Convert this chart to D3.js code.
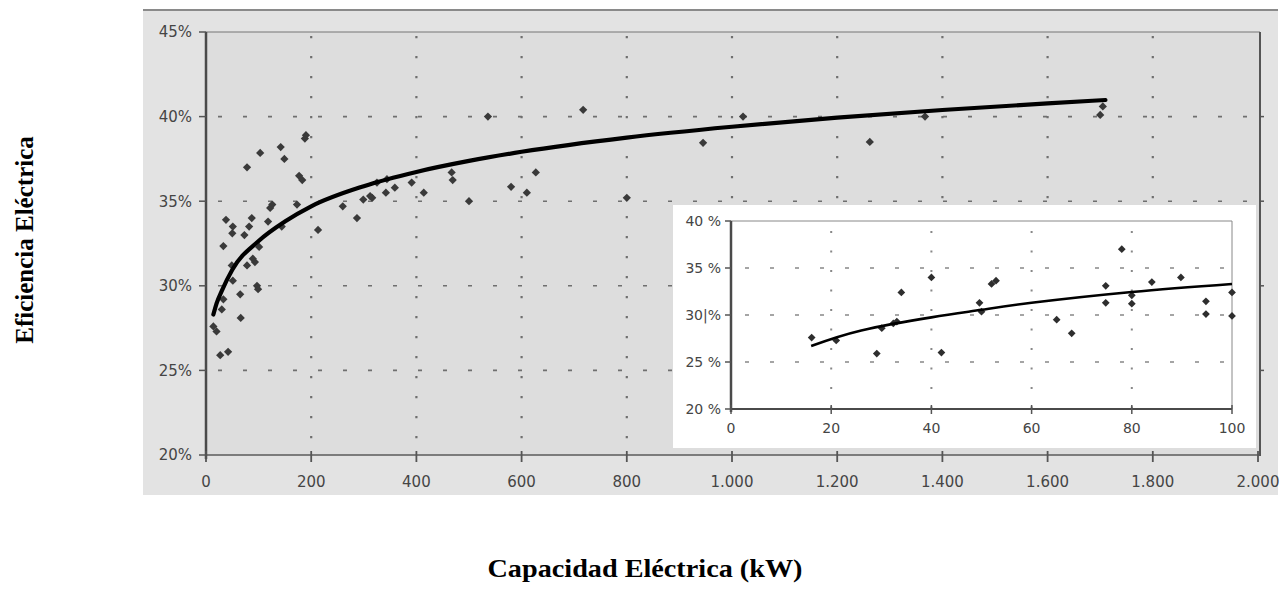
<!DOCTYPE html>
<html lang="es">
<head>
  <meta charset="UTF-8">
  <title>Eficiencia vs Capacidad Eléctrica</title>
  <style>
    body { margin: 0; background: #fff; }
    svg { display: block; }
    .tick-label { font-family: "DejaVu Sans", sans-serif; fill: #454545; }
    .axis-title { font-family: "Liberation Serif", "Times New Roman", serif; font-weight: bold; font-size: 25px; fill: #000; }
  </style>
</head>
<body>
  <script src="https://d3js.org/d3.v7.min.js"></script>
  <script>
    // datos del gráfico principal (kW, %)
    const mainCapacity = [14, 20, 27, 42, 30, 33, 65, 66, 97, 99, 51, 49, 78, 93, 33, 101, 89,
      50, 73, 51, 82, 38, 87, 118, 144, 122, 126, 173, 213,
      78, 103, 142, 149, 177, 183, 188, 190,
      260, 287, 299, 312, 316, 325, 342, 344, 359, 391, 414, 467, 469,
      500, 536, 580, 610, 627, 717, 800, 945, 1021, 1262, 1367, 1700, 1705];
    const mainEfficiency = [27.6, 27.3, 25.9, 26.1, 28.6, 29.2, 29.5, 28.1, 30.0, 29.8, 30.3, 31.2, 31.2, 31.4, 32.35, 32.3, 31.6,
      33.1, 33.0, 33.5, 33.5, 33.9, 34.0, 33.8, 33.5, 34.6, 34.8, 34.8, 33.3,
      37.0, 37.85, 38.2, 37.5, 36.5, 36.25, 38.7, 38.9,
      34.7, 34.0, 35.1, 35.3, 35.2, 36.1, 35.5, 36.3, 35.8, 36.1, 35.5, 36.7, 36.25,
      35.0, 40.0, 35.85, 35.5, 36.7, 40.4, 35.2, 38.45, 40.0, 38.5, 40.0, 40.1, 40.6];

    // línea de tendencia
    const trendMainX = [14, 20, 30, 50, 100, 150, 200, 300, 400, 500, 600, 800, 1000, 1200, 1400, 1600, 1710];
    const trendMainY = [28.3, 28.95, 29.7, 30.95, 32.65, 33.8, 34.7, 35.89, 36.73, 37.38, 37.92, 38.76, 39.4, 39.94, 40.39, 40.78, 40.98];

    // datos del recuadro (0-100 kW)
    const insetCapacity = [16.1, 21, 29.1, 30.1, 32.4, 33.1, 34, 40, 42, 49.6, 50, 52, 52.9, 65, 68,
      74.8, 74.8, 78, 80, 80, 84, 89.8, 94.8, 94.8, 100, 100];
    const insetEfficiency = [27.6, 27.3, 25.9, 28.6, 29.1, 29.3, 32.4, 34.0, 26.0, 31.3, 30.35, 33.3, 33.65, 29.5, 28.05,
      33.1, 31.3, 37.0, 32.1, 31.2, 33.5, 34.0, 31.45, 30.1, 32.4, 29.9];
    const trendInsetX = [16, 26, 40, 50, 60, 80, 100];
    const trendInsetY = [26.7, 28.35, 29.75, 30.55, 31.3, 32.45, 33.3];

    // ticks
    const mainXTicks = [0, 200, 400, 600, 800, 1000, 1200, 1400, 1600, 1800, 2000];
    const mainYTicks = [20, 25, 30, 35, 40, 45];
    const insetXTicks = [0, 20, 40, 60, 80, 100];
    const insetYTicks = [20, 25, 30, 35, 40];
    const insetYLabels = ["20 %", "25 %", "30|%", "35 %", "40 %"];

    const width = 1285, height = 609;
    const svg = d3.select("body").append("svg")
      .attr("width", width)
      .attr("height", height);

    const esLocale = d3.formatLocale({decimal: ",", thousands: ".", grouping: [3], currency: ["", ""]});
    const fmtKw = esLocale.format(",");

    // marco exterior gris
    svg.append("rect").attr("x", 143).attr("y", 10).attr("width", 1135).attr("height", 485)
      .attr("fill", "#e3e3e3");
    svg.append("line").attr("x1", 143).attr("x2", 1278).attr("y1", 10).attr("y2", 10)
      .attr("stroke", "#8a8a8a").attr("stroke-width", 2);

    // ---------- gráfico principal ----------
    const x = d3.scaleLinear().domain([0, 2000]).range([206, 1258]);
    const y = d3.scaleLinear().domain([20, 45]).range([455, 32]);

    svg.append("rect").attr("x", 206).attr("y", 32).attr("width", 1054).attr("height", 423)
      .attr("fill", "#dddddd");

    const grid = svg.append("g");
    grid.selectAll("line.v").data(mainXTicks.filter(d => d > 0 && d < 2000)).enter().append("line")
      .attr("x1", d => x(d)).attr("x2", d => x(d))
      .attr("y1", 36).attr("y2", 455)
      .attr("stroke", "#6f6f6f").attr("stroke-width", 2.2)
      .attr("stroke-dasharray", "2.2 17.8");
    grid.selectAll("line.h").data(mainYTicks.filter(d => d > 20 && d < 45)).enter().append("line")
      .attr("x1", 218).attr("x2", 1260)
      .attr("y1", d => y(d)).attr("y2", d => y(d))
      .attr("stroke", "#6f6f6f").attr("stroke-width", 1.6)
      .attr("stroke-dasharray", "4 21");

    // bordes del área
    svg.append("line").attr("x1", 206).attr("x2", 1260).attr("y1", 32).attr("y2", 32)
      .attr("stroke", "#777").attr("stroke-width", 1.2);
    svg.append("line").attr("x1", 1260).attr("x2", 1260).attr("y1", 32).attr("y2", 456)
      .attr("stroke", "#555").attr("stroke-width", 2);
    svg.selectAll("line.rt").data(mainYTicks.slice(1, -1)).enter().append("line")
      .attr("x1", 1260).attr("x2", 1264).attr("y1", d => y(d)).attr("y2", d => y(d))
      .attr("stroke", "#555").attr("stroke-width", 1.5);

    // ejes
    svg.append("line").attr("x1", 206).attr("x2", 1260).attr("y1", 455).attr("y2", 455)
      .attr("stroke", "#5a5a5a").attr("stroke-width", 1.6);
    svg.append("line").attr("x1", 206).attr("x2", 206).attr("y1", 32).attr("y2", 459)
      .attr("stroke", "#4a4a4a").attr("stroke-width", 2.5);

    svg.selectAll("line.yt").data(mainYTicks).enter().append("line")
      .attr("x1", 199).attr("x2", 206).attr("y1", d => y(d)).attr("y2", d => y(d))
      .attr("stroke", "#555").attr("stroke-width", 1.5);
    svg.selectAll("line.xt").data(mainXTicks).enter().append("line")
      .attr("x1", d => x(d)).attr("x2", d => x(d)).attr("y1", 451).attr("y2", 462)
      .attr("stroke", "#555").attr("stroke-width", 1.8);

    svg.selectAll("text.yl").data(mainYTicks).enter().append("text")
      .attr("class", "tick-label")
      .attr("x", 192).attr("y", d => y(d)).attr("dy", "0.36em")
      .attr("text-anchor", "end").attr("font-size", "15px")
      .text(d => d + "%");
    svg.selectAll("text.xl").data(mainXTicks).enter().append("text")
      .attr("class", "tick-label")
      .attr("x", d => x(d)).attr("y", 482).attr("dy", "0.36em")
      .attr("text-anchor", "middle").attr("font-size", "15px")
      .text(d => fmtKw(d));

    // puntos (rombos = cuadrados girados)
    const diamond = d3.symbol().type(d3.symbolSquare).size(34);
    svg.append("g").selectAll("path").data(mainCapacity).enter().append("path")
      .attr("d", diamond)
      .attr("transform", (d, i) => `translate(${x(d)},${y(mainEfficiency[i])}) rotate(45)`)
      .attr("fill", "#3a3a3a");

    // tendencia
    const trendMain = trendMainX.map((d, i) => [d, trendMainY[i]]);
    svg.append("path").datum(trendMain)
      .attr("d", d3.line().x(d => x(d[0])).y(d => y(d[1])).curve(d3.curveMonotoneX))
      .attr("fill", "none").attr("stroke", "#000").attr("stroke-width", 4.2)
      .attr("stroke-linecap", "round");

    // ---------- recuadro 0-100 kW ----------
    const xi = d3.scaleLinear().domain([0, 100]).range([731, 1232]);
    const yi = d3.scaleLinear().domain([20, 40]).range([409, 221]);

    svg.append("rect").attr("x", 673).attr("y", 205).attr("width", 583).attr("height", 243)
      .attr("fill", "#fff");

    const igrid = svg.append("g");
    igrid.selectAll("line.v").data(insetXTicks.filter(d => d > 0 && d < 100)).enter().append("line")
      .attr("x1", d => xi(d)).attr("x2", d => xi(d))
      .attr("y1", 231).attr("y2", 409)
      .attr("stroke", "#888").attr("stroke-width", 2)
      .attr("stroke-dasharray", "2 17.5");
    igrid.selectAll("line.h").data(insetYTicks.filter(d => d > 20 && d < 40)).enter().append("line")
      .attr("x1", 745).attr("x2", 1232)
      .attr("y1", d => yi(d)).attr("y2", d => yi(d))
      .attr("stroke", "#888").attr("stroke-width", 1.5)
      .attr("stroke-dasharray", "4 21");

    svg.append("line").attr("x1", 731).attr("x2", 1232).attr("y1", 221).attr("y2", 221)
      .attr("stroke", "#888").attr("stroke-width", 1);
    svg.append("line").attr("x1", 1232).attr("x2", 1232).attr("y1", 221).attr("y2", 409)
      .attr("stroke", "#888").attr("stroke-width", 1);
    svg.append("line").attr("x1", 731).attr("x2", 1232).attr("y1", 409).attr("y2", 409)
      .attr("stroke", "#4a4a4a").attr("stroke-width", 2);
    svg.append("line").attr("x1", 731).attr("x2", 731).attr("y1", 221).attr("y2", 412)
      .attr("stroke", "#4a4a4a").attr("stroke-width", 2.5);

    svg.selectAll("line.iyt").data(insetYTicks).enter().append("line")
      .attr("x1", 725).attr("x2", 731).attr("y1", d => yi(d)).attr("y2", d => yi(d))
      .attr("stroke", "#555").attr("stroke-width", 1.5);
    svg.selectAll("line.ixt").data(insetXTicks).enter().append("line")
      .attr("x1", d => xi(d)).attr("x2", d => xi(d)).attr("y1", 405).attr("y2", 414)
      .attr("stroke", "#555").attr("stroke-width", 1.5);

    svg.selectAll("text.iyl").data(insetYTicks).enter().append("text")
      .attr("class", "tick-label")
      .attr("x", 721).attr("y", d => yi(d)).attr("dy", "0.36em")
      .attr("text-anchor", "end").attr("font-size", "14px")
      .text((d, i) => insetYLabels[i]);
    svg.selectAll("text.ixl").data(insetXTicks).enter().append("text")
      .attr("class", "tick-label")
      .attr("x", d => xi(d)).attr("y", 428).attr("dy", "0.36em")
      .attr("text-anchor", "middle").attr("font-size", "14px")
      .text(d => d);

    const diamondSmall = d3.symbol().type(d3.symbolSquare).size(30);
    svg.append("g").selectAll("path").data(insetCapacity).enter().append("path")
      .attr("d", diamondSmall)
      .attr("transform", (d, i) => `translate(${xi(d)},${yi(insetEfficiency[i])}) rotate(45)`)
      .attr("fill", "#2e2e2e");

    const trendInset = trendInsetX.map((d, i) => [d, trendInsetY[i]]);
    svg.append("path").datum(trendInset)
      .attr("d", d3.line().x(d => xi(d[0])).y(d => yi(d[1])).curve(d3.curveNatural))
      .attr("fill", "none").attr("stroke", "#000").attr("stroke-width", 2.6);

    // ---------- títulos de ejes ----------
    svg.append("text").attr("class", "axis-title")
      .attr("transform", "translate(24,240) rotate(-90)")
      .attr("text-anchor", "middle").attr("dy", "0.35em")
      .text("Eficiencia Eléctrica");
    svg.append("text").attr("class", "axis-title")
      .attr("x", 645).attr("y", 568)
      .attr("text-anchor", "middle").attr("dy", "0.35em")
      .attr("textLength", 315).attr("lengthAdjust", "spacingAndGlyphs")
      .text("Capacidad Eléctrica (kW)");
  </script>
</body>
</html>
